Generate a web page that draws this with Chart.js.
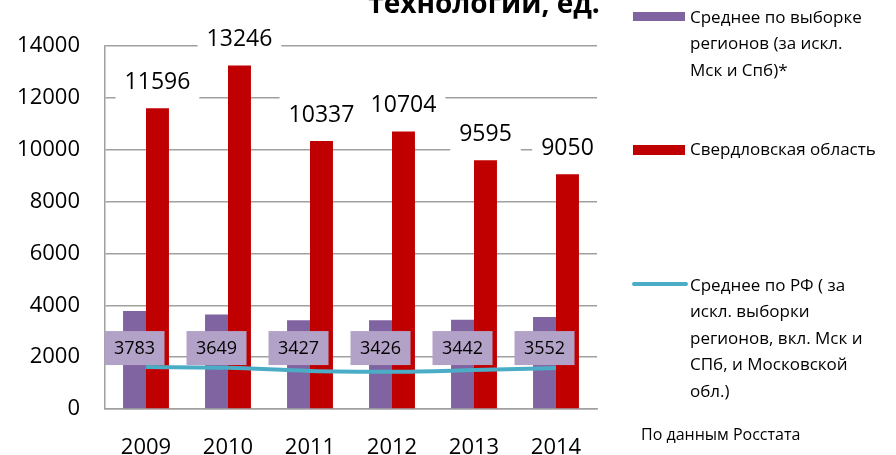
<!DOCTYPE html>
<html>
<head>
<meta charset="utf-8">
<script src="https://cdn.jsdelivr.net/npm/chart.js@4"></script>
<style>
  html, body { margin: 0; padding: 0; background: #fff; }
  #wrap { width: 896px; height: 455px; }
</style>
</head>
<body>
<div id="wrap"><canvas id="chart" width="896" height="455"></canvas></div>
<script>
const years = ['2009', '2010', '2011', '2012', '2013', '2014'];
const sampleAvg = [3783, 3649, 3427, 3426, 3442, 3552];
const sverdlovsk = [11596, 13246, 10337, 10704, 9595, 9050];
const russiaAvg = [1620, 1590, 1470, 1440, 1500, 1580];

const titleTail = 'технологии, ед.';
const sampleName = ['Среднее по выборке', 'регионов (за искл.', 'Мск и Спб)*'];
const sverdName = ['Свердловская область'];
const russiaName = ['Среднее по РФ ( за', 'искл. выборки', 'регионов, вкл. Мск и', 'СПб, и Московской', 'обл.)'];
const sourceNote = 'По данным Росстата';

const FONT = '"Open Sans", "DejaVu Sans", sans-serif';
const PURPLE = '#8064a2';
const RED = '#c00000';
const TEAL = '#4bacc6';
const GRID = '#a0a0a0';

// value labels: lavender boxes for the sample, white boxes over the red bars
const valueLabels = {
  id: 'valueLabels',
  afterDatasetsDraw(chart) {
    const ctx = chart.ctx;
    const yScale = chart.scales.y;
    ctx.save();
    ctx.textAlign = 'center';
    ctx.textBaseline = 'middle';

    const purpleMeta = chart.getDatasetMeta(0);
    ctx.font = '18px ' + FONT;
    purpleMeta.data.forEach((bar, i) => {
      const cy = yScale.getPixelForValue(2350);
      ctx.fillStyle = '#b3a2c7';
      ctx.fillRect(bar.x - 30, cy - 17, 60, 34);
      ctx.fillStyle = '#000';
      ctx.fillText(String(sampleAvg[i]), bar.x, cy + 1);
    });

    const redMeta = chart.getDatasetMeta(1);
    ctx.font = '23px ' + FONT;
    redMeta.data.forEach((bar, i) => {
      const text = String(sverdlovsk[i]);
      const w = ctx.measureText(text).width + 18;
      const cy = bar.y - 27;
      ctx.fillStyle = '#fff';
      ctx.fillRect(bar.x - w / 2, cy - 19, w, 38);
      ctx.fillStyle = '#000';
      ctx.fillText(text, bar.x, cy + 1);
    });
    ctx.restore();
  }
};

// legend, cut-off title and source note drawn at the side
const sideText = {
  id: 'sideText',
  afterDraw(chart) {
    const ctx = chart.ctx;
    ctx.save();
    ctx.fillStyle = '#000';
    ctx.textBaseline = 'alphabetic';
    ctx.textAlign = 'center';
    ctx.font = 'bold 28px ' + FONT;
    ctx.fillText(titleTail, 484, 13);

    ctx.textAlign = 'left';
    ctx.textBaseline = 'middle';
    ctx.font = '17px ' + FONT;

    ctx.fillStyle = PURPLE;
    ctx.fillRect(633, 12, 52, 9);
    ctx.fillStyle = '#000';
    sampleName.forEach((t, i) => ctx.fillText(t, 690, 18 + i * 26.5));

    ctx.fillStyle = RED;
    ctx.fillRect(633, 145, 52, 10);
    ctx.fillStyle = '#000';
    sverdName.forEach((t, i) => ctx.fillText(t, 690, 150 + i * 26.5));

    ctx.strokeStyle = TEAL;
    ctx.lineWidth = 4;
    ctx.lineCap = 'round';
    ctx.beginPath();
    ctx.moveTo(634, 284);
    ctx.lineTo(686, 284);
    ctx.stroke();
    russiaName.forEach((t, i) => ctx.fillText(t, 690, 286 + i * 26.5));

    ctx.font = '16px ' + FONT;
    ctx.fillText(sourceNote, 641, 435);
    ctx.restore();
  }
};

new Chart(document.getElementById('chart').getContext('2d'), {
  type: 'bar',
  data: {
    labels: years,
    datasets: [
      {
        label: sampleName.join(' '),
        data: sampleAvg,
        backgroundColor: PURPLE,
        categoryPercentage: 0.56,
        barPercentage: 1,
        order: 1
      },
      {
        label: sverdName.join(' '),
        data: sverdlovsk,
        backgroundColor: RED,
        categoryPercentage: 0.56,
        barPercentage: 1,
        order: 1
      },
      {
        type: 'line',
        label: russiaName.join(' '),
        data: russiaAvg,
        borderColor: TEAL,
        borderWidth: 4,
        pointRadius: 0,
        tension: 0.4,
        cubicInterpolationMode: 'monotone',
        order: -1
      }
    ]
  },
  options: {
    responsive: false,
    animation: false,
    devicePixelRatio: 1,
    layout: { padding: { top: 46, right: 299, left: 0, bottom: 0 } },
    plugins: {
      legend: { display: false },
      title: { display: false },
      tooltip: { enabled: false }
    },
    scales: {
      x: {
        grid: { display: false },
        border: { display: true, color: GRID, width: 1.5 },
        ticks: { color: '#000', font: { family: FONT, size: 22 }, padding: 18 },
        afterFit(scale) { scale.height = 46; }
      },
      y: {
        min: 0,
        max: 14000,
        ticks: {
          stepSize: 2000,
          color: '#000',
          font: { family: FONT, size: 22 },
          padding: 25,
          callback: (v) => String(v)
        },
        grid: { color: GRID, lineWidth: 1.5, drawTicks: false },
        border: { display: true, color: GRID, width: 1.5 },
        afterFit(scale) { scale.width = 105; }
      }
    }
  },
  plugins: [valueLabels, sideText]
});
</script>
</body>
</html>
